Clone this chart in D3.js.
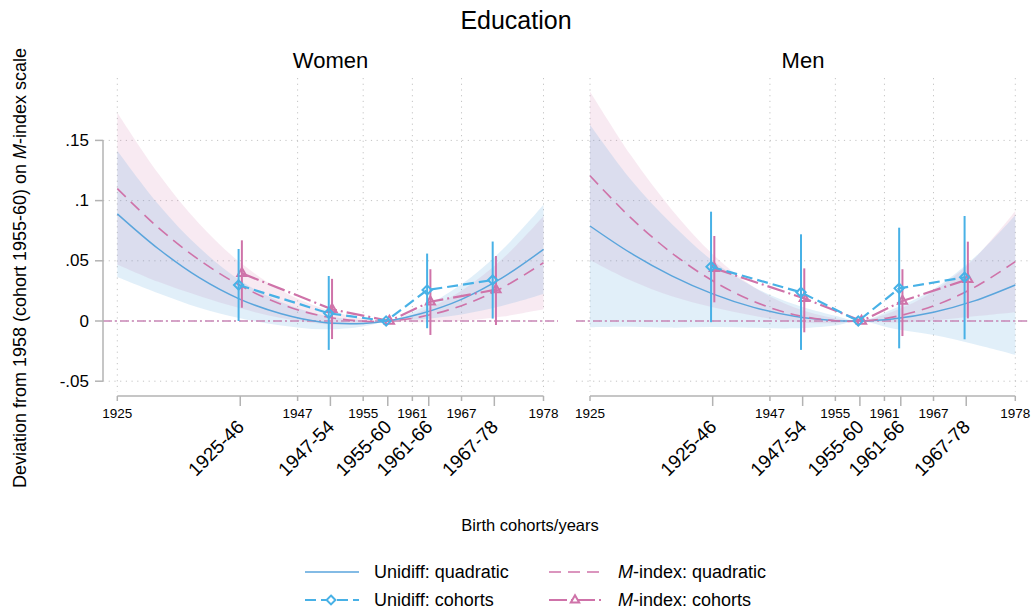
<!DOCTYPE html>
<html>
<head>
<meta charset="utf-8">
<script src="https://cdn.jsdelivr.net/npm/d3@7"></script>
<style>
  body { margin: 0; background: #fff; }
  text { font-family: "Liberation Sans", Arial, sans-serif; fill: #000; }
</style>
</head>
<body>
<div id="chart"></div>
<script>
// x positions (birth year) for the fitted quadratic curves
const years = [1925, 1930, 1935, 1940, 1945, 1950, 1955, 1958, 1962, 1967, 1972, 1977];

// Women - quadratic fits with 95% bands
const uniQuadW   = [0.089, 0.060, 0.036, 0.018, 0.006, -0.001, -0.002, 0, 0.006, 0.018, 0.036, 0.0595];
const uniQuadWlo = [0.0365, 0.023, 0.011, 0.0023, -0.0037, -0.0069, -0.0045, 0, 0.0015, 0.0055, 0.0127, 0.0225];
const uniQuadWhi = [0.1415, 0.097, 0.061, 0.0337, 0.0157, 0.0049, 0.0005, 0, 0.0105, 0.0305, 0.0593, 0.0965];
const mQuadW     = [0.110, 0.0775, 0.0507, 0.0295, 0.0139, 0.0041, -0.0002, 0, 0.0034, 0.0127, 0.0277, 0.0484];
const mQuadWlo   = [0.047, 0.0325, 0.0207, 0.0105, 0.0024, -0.0024, -0.0027, 0, -0.0011, 0.0002, 0.0037, 0.0097];
const mQuadWhi   = [0.173, 0.1225, 0.0807, 0.0485, 0.0254, 0.0106, 0.0023, 0, 0.0079, 0.0252, 0.0517, 0.0871];

// Men - quadratic fits with 95% bands
const uniQuadM   = [0.0789, 0.0563, 0.0375, 0.0225, 0.0113, 0.0039, 0.0003, 0, 0.0017, 0.0073, 0.0167, 0.0299];
const uniQuadMlo = [-0.0051, -0.0047, -0.0055, -0.005, -0.0057, -0.0061, -0.0037, 0, -0.0063, -0.0117, -0.0193, -0.0281];
const uniQuadMhi = [0.1629, 0.1173, 0.0805, 0.05, 0.0283, 0.0139, 0.0043, 0, 0.0097, 0.0263, 0.0527, 0.0879];
const mQuadM     = [0.1207, 0.0856, 0.0565, 0.0334, 0.0163, 0.0052, 0.0002, 0, 0.0032, 0.0125, 0.0279, 0.0493];
const mQuadMlo   = [0.0507, 0.0336, 0.0205, 0.0114, 0.0043, -0.0008, -0.0018, 0, -0.0013, 0.0005, 0.0039, 0.0073];
const mQuadMhi   = [0.1907, 0.1376, 0.0925, 0.0554, 0.0283, 0.0112, 0.0022, 0, 0.0077, 0.0245, 0.0519, 0.0913];

// cohort estimates
const cohortMid = [1940, 1951, 1958, 1963, 1971];
const cohortLabels = ["1925-46", "1947-54", "1955-60", "1961-66", "1967-78"];

const uniCohW   = [0.0299, 0.0064, 0, 0.0257, 0.034];
const uniCohWlo = [0.0, -0.024, 0, -0.006, 0.002];
const uniCohWhi = [0.0598, 0.0374, 0, 0.056, 0.066];
const mCohW     = [0.0396, 0.0097, 0, 0.016, 0.026];
const mCohWlo   = [0.011, -0.015, 0, -0.0116, -0.0033];
const mCohWhi   = [0.067, 0.035, 0, 0.043, 0.054];

const uniCohM   = [0.0451, 0.0238, 0, 0.0271, 0.0363];
const uniCohMlo = [-0.001, -0.024, 0, -0.0227, -0.0152];
const uniCohMhi = [0.0908, 0.072, 0, 0.0775, 0.0872];
const mCohM     = [0.0437, 0.0188, 0, 0.0166, 0.0346];
const mCohMlo   = [0.0155, -0.0094, 0, -0.0125, 0.0022];
const mCohMhi   = [0.0706, 0.0437, 0, 0.043, 0.0659];

// axis ticks
const yearTicks = [1925, 1947, 1955, 1961, 1967, 1977];
const yearTickLabels = ["1925", "1947", "1955", "1961", "1967", "1978"];
const yTicks = [-0.05, 0, 0.05, 0.1, 0.15];
const yTickLabels = ["-.05", "0", ".05", ".1", ".15"];

const blue = "#5aa5dc", blueCoh = "#48b1e6", pink = "#cf73a9";

const width = 1032, height = 615;
const svg = d3.select("#chart").append("svg")
  .attr("width", width).attr("height", height);
svg.append("rect").attr("width", width).attr("height", height).attr("fill", "#fff");

const y = d3.scaleLinear().domain([-0.05, 0.15]).range([381.2, 140.4]);
const plotTop = 78, plotBottom = 392, axisY = 396;

const panels = [
  { title: "Women", left: 103, right: 558, r0: 117.3, r1: 543.5, yAxis: true,
    uq: [uniQuadW, uniQuadWlo, uniQuadWhi], mq: [mQuadW, mQuadWlo, mQuadWhi],
    uc: [uniCohW, uniCohWlo, uniCohWhi], mc: [mCohW, mCohWlo, mCohWhi] },
  { title: "Men", left: 576, right: 1030, r0: 590, r1: 1015.3, yAxis: false,
    uq: [uniQuadM, uniQuadMlo, uniQuadMhi], mq: [mQuadM, mQuadMlo, mQuadMhi],
    uc: [uniCohM, uniCohMlo, uniCohMhi], mc: [mCohM, mCohMlo, mCohMhi] }
];

function drawPanel(p) {
  const x = d3.scaleLinear().domain([1925, 1977]).range([p.r0, p.r1]);
  const g = svg.append("g");

  // grid
  g.selectAll(".hgrid").data(yTicks).enter().append("line")
    .attr("x1", p.left).attr("x2", p.right)
    .attr("y1", d => y(d)).attr("y2", d => y(d))
    .attr("stroke", "#c4c4c4").attr("stroke-dasharray", "1.2,4.5");
  g.selectAll(".vgrid").data(yearTicks).enter().append("line")
    .attr("x1", d => x(d)).attr("x2", d => x(d))
    .attr("y1", plotTop).attr("y2", plotBottom)
    .attr("stroke", "#c4c4c4").attr("stroke-dasharray", "1.2,4.5");

  // confidence bands
  const idx = d3.range(years.length);
  const band = (lo, hi) => d3.area()
    .x(i => x(years[i])).y0(i => y(lo[i])).y1(i => y(hi[i]))
    .curve(d3.curveCatmullRom)(idx);
  g.append("path").attr("d", band(p.mq[1], p.mq[2]))
    .attr("fill", pink).attr("fill-opacity", 0.15);
  g.append("path").attr("d", band(p.uq[1], p.uq[2]))
    .attr("fill", blue).attr("fill-opacity", 0.18);

  // zero reference
  g.append("line")
    .attr("x1", p.left).attr("x2", p.right)
    .attr("y1", y(0)).attr("y2", y(0))
    .attr("stroke", "#c987b6").attr("stroke-width", 1.5)
    .attr("stroke-dasharray", "9,3,2,3");

  // quadratic fits
  const curve = vals => d3.line()
    .x(i => x(years[i])).y(i => y(vals[i]))
    .curve(d3.curveCatmullRom)(idx);
  g.append("path").attr("d", curve(p.uq[0]))
    .attr("fill", "none").attr("stroke", blue).attr("stroke-width", 1.5);
  g.append("path").attr("d", curve(p.mq[0]))
    .attr("fill", "none").attr("stroke", pink).attr("stroke-width", 1.6)
    .attr("stroke-dasharray", "12,7");

  // cohort estimates
  const cidx = d3.range(cohortMid.length);
  const cohort = (vals, off, color, dash, sym) => {
    g.append("path")
      .attr("d", d3.line().x(i => x(cohortMid[i] + off)).y(i => y(vals[0][i]))(cidx))
      .attr("fill", "none").attr("stroke", color).attr("stroke-width", 2.2)
      .attr("stroke-dasharray", dash);
    g.selectAll(null).data(cidx.filter(i => vals[1][i] !== vals[2][i])).enter().append("line")
      .attr("x1", i => x(cohortMid[i] + off)).attr("x2", i => x(cohortMid[i] + off))
      .attr("y1", i => y(vals[1][i])).attr("y2", i => y(vals[2][i]))
      .attr("stroke", color).attr("stroke-width", 2);
    g.selectAll(null).data(cidx).enter().append("path")
      .attr("d", d3.symbol().type(sym).size(sym === d3.symbolDiamond2 ? 55 : 60))
      .attr("transform", i => `translate(${x(cohortMid[i] + off)},${y(vals[0][i])})`)
      .attr("fill", "none").attr("stroke", color).attr("stroke-width", 2);
  };
  cohort(p.mc, 0.2, pink, "18,4,2,4", d3.symbolTriangle2);
  cohort(p.uc, -0.2, blueCoh, "11,5", d3.symbolDiamond2);

  // x axis
  const axisColor = "#b3b3b3";
  g.append("line").attr("x1", x(1925)).attr("x2", x(1977))
    .attr("y1", axisY).attr("y2", axisY)
    .attr("stroke", axisColor).attr("stroke-width", 1.5);
  g.selectAll(null).data(yearTicks).enter().append("line")
    .attr("x1", d => x(d)).attr("x2", d => x(d))
    .attr("y1", axisY).attr("y2", axisY + 5)
    .attr("stroke", axisColor).attr("stroke-width", 1.5);
  g.selectAll(null).data(yearTicks).enter().append("text")
    .attr("x", d => x(d)).attr("y", axisY + 17)
    .attr("dominant-baseline", "central").attr("text-anchor", "middle")
    .style("font-size", "13.5px")
    .text((d, i) => yearTickLabels[i]);
  g.selectAll(null).data(cohortMid).enter().append("line")
    .attr("x1", d => x(d)).attr("x2", d => x(d))
    .attr("y1", axisY).attr("y2", axisY + 10)
    .attr("stroke", axisColor).attr("stroke-width", 1.5);
  g.selectAll(null).data(cohortMid).enter().append("text")
    .attr("transform", d => `translate(${x(d) + 5},${axisY + 32}) rotate(-45)`)
    .attr("text-anchor", "end")
    .style("font-size", "19px")
    .text((d, i) => cohortLabels[i]);

  // y axis
  if (p.yAxis) {
    g.append("line").attr("x1", p.left).attr("x2", p.left)
      .attr("y1", y(-0.05)).attr("y2", y(0.15))
      .attr("stroke", axisColor).attr("stroke-width", 1.5);
    g.selectAll(null).data(yTicks).enter().append("line")
      .attr("x1", p.left - 8).attr("x2", p.left)
      .attr("y1", d => y(d)).attr("y2", d => y(d))
      .attr("stroke", axisColor).attr("stroke-width", 1.5);
    g.selectAll(null).data(yTicks).enter().append("text")
      .attr("x", p.left - 14).attr("y", d => y(d))
      .attr("dominant-baseline", "central").attr("text-anchor", "end")
      .style("font-size", "17px")
      .text((d, i) => yTickLabels[i]);
  }

  // panel title
  svg.append("text")
    .attr("x", (p.left + p.right) / 2).attr("y", 60)
    .attr("text-anchor", "middle").attr("dominant-baseline", "central")
    .style("font-size", "22px")
    .text(p.title);
}

panels.forEach(drawPanel);

// titles
svg.append("text").attr("x", width / 2).attr("y", 20)
  .attr("text-anchor", "middle").attr("dominant-baseline", "central")
  .style("font-size", "25px").text("Education");

svg.append("text").attr("x", 530).attr("y", 525)
  .attr("text-anchor", "middle").attr("dominant-baseline", "central")
  .style("font-size", "16.5px").text("Birth cohorts/years");

const yt = svg.append("text")
  .attr("transform", "translate(20,268) rotate(-90)")
  .attr("text-anchor", "middle").attr("dominant-baseline", "central")
  .style("font-size", "18px");
yt.append("tspan").text("Deviation from 1958 (cohort 1955-60) on ");
yt.append("tspan").style("font-style", "italic").text("M");
yt.append("tspan").text("-index scale");

// legend
const legend = [
  { col: 0, row: 0, pre: "", label: "Unidiff: quadratic", color: blue, dash: null, sym: null },
  { col: 1, row: 0, pre: "M", label: "-index: quadratic", color: pink, dash: "12,7", sym: null },
  { col: 0, row: 1, pre: "", label: "Unidiff: cohorts", color: blueCoh, dash: "11,5", sym: d3.symbolDiamond2 },
  { col: 1, row: 1, pre: "M", label: "-index: cohorts", color: pink, dash: "18,4,2,4", sym: d3.symbolTriangle2 }
];
const legX = [305, 549], legY = [572, 600];
legend.forEach(d => {
  const lx = legX[d.col], ly = legY[d.row];
  svg.append("line").attr("x1", lx).attr("x2", lx + 54)
    .attr("y1", ly).attr("y2", ly)
    .attr("stroke", d.color).attr("stroke-width", d.sym ? 2 : 1.6)
    .attr("stroke-dasharray", d.dash);
  if (d.sym) {
    svg.append("path").attr("d", d3.symbol().type(d.sym).size(50))
      .attr("transform", `translate(${lx + 26},${ly})`)
      .attr("fill", "#fff").attr("stroke", d.color).attr("stroke-width", 2);
  }
  const t = svg.append("text").attr("x", lx + 69).attr("y", ly)
    .attr("dominant-baseline", "central").style("font-size", "18px");
  if (d.pre) t.append("tspan").style("font-style", "italic").text(d.pre);
  t.append("tspan").text(d.label);
});
</script>
</body>
</html>
